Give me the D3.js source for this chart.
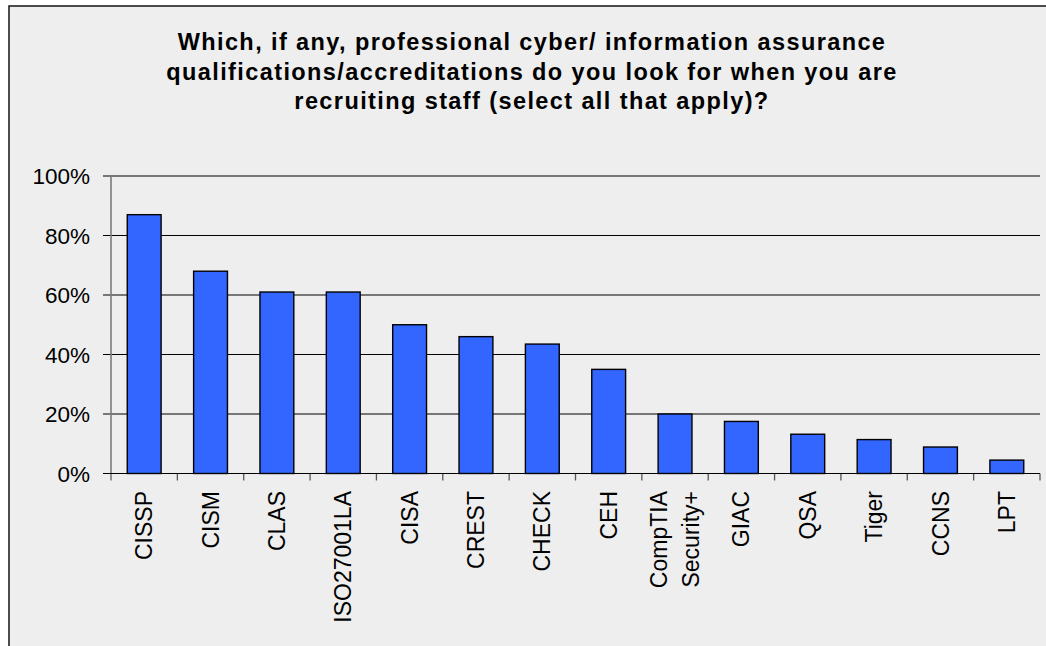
<!DOCTYPE html>
<html>
<head>
<meta charset="utf-8">
<script src="https://cdn.jsdelivr.net/npm/d3@7"></script>
<style>
  html, body { margin: 0; padding: 0; background: #ffffff; }
  svg { display: block; }
  text { font-family: "Liberation Sans", Arial, Helvetica, sans-serif; fill: #000; }
</style>
</head>
<body>
<svg id="chart" width="1046" height="646"></svg>
<script>
const titleLines = [
  "Which, if any, professional cyber/ information assurance",
  "qualifications/accreditations do you look for when you are",
  "recruiting staff (select all that apply)?"
];
const categories = [
  ["CISSP"], ["CISM"], ["CLAS"], ["ISO27001LA"], ["CISA"], ["CREST"], ["CHECK"],
  ["CEH"], ["CompTIA", "Security+"], ["GIAC"], ["QSA"], ["Tiger"], ["CCNS"], ["LPT"]
];
const values = [0.87, 0.68, 0.61, 0.61, 0.50, 0.46, 0.435, 0.35, 0.20, 0.175, 0.132, 0.114, 0.089, 0.045];
const yTicks = [0, 0.2, 0.4, 0.6, 0.8, 1.0];

const svg = d3.select("#chart");
const W = 1046, H = 646;
const plot = { left: 111, right: 1040, top: 176, bottom: 473.5 };

// frame
svg.append("rect")
  .attr("x", 9).attr("y", 6).attr("width", W + 20).attr("height", H + 20)
  .attr("fill", "#eeeeee").attr("stroke", "#222").attr("stroke-width", 1.6);

// title
const title = svg.append("text")
  .attr("text-anchor", "middle")
  .style("font-weight", "bold")
  .style("font-size", "23.5px")
  .style("letter-spacing", "1.4px");
titleLines.forEach((t, i) => {
  title.append("tspan").attr("x", 532).attr("y", 50 + i * 29.6).text(t);
});

const keys = categories.map((c, i) => i);
const xBand = d3.scaleBand().domain(keys).range([plot.left, plot.right]).padding(0);
const y = d3.scaleLinear().domain([0, 1]).range([plot.bottom, plot.top]);

// gridlines
svg.append("g").selectAll("line").data(yTicks).join("line")
  .attr("x1", plot.left - 8).attr("x2", plot.right)
  .attr("y1", d => y(d)).attr("y2", d => y(d))
  .attr("stroke", "#000").attr("stroke-width", 1.1);

// y axis labels
svg.append("g").selectAll("text").data(yTicks).join("text")
  .attr("x", 90).attr("y", d => y(d)).attr("dy", "0.36em")
  .attr("text-anchor", "end")
  .style("font-size", "22.5px")
  .text(d => d3.format(".0%")(d));

// y axis line
svg.append("line")
  .attr("x1", plot.left).attr("x2", plot.left)
  .attr("y1", plot.top).attr("y2", plot.bottom + 7)
  .attr("stroke", "#7a7a7a").attr("stroke-width", 1.6);

// x ticks at band boundaries
const bounds = keys.map(k => xBand(k)).concat([plot.right]);
svg.append("g").selectAll("line").data(bounds.slice(1)).join("line")
  .attr("x1", d => d).attr("x2", d => d)
  .attr("y1", plot.bottom).attr("y2", plot.bottom + 7)
  .attr("stroke", "#555").attr("stroke-width", 1.3);

// bars
const barW = xBand.bandwidth() * 0.51;
svg.append("g").selectAll("rect").data(values).join("rect")
  .attr("x", (d, i) => xBand(i) + (xBand.bandwidth() - barW) / 2)
  .attr("y", d => y(d))
  .attr("width", barW)
  .attr("height", d => y(0) - y(d))
  .attr("fill", "#3366ff")
  .attr("stroke", "#000").attr("stroke-width", 1.4);

// x axis baseline
svg.append("line")
  .attr("x1", plot.left - 8).attr("x2", plot.right)
  .attr("y1", plot.bottom).attr("y2", plot.bottom)
  .attr("stroke", "#000").attr("stroke-width", 1.2);

// x labels
const lab = svg.append("g").selectAll("text").data(categories).join("text")
  .attr("transform", (d, i) => `translate(${xBand(i) + xBand.bandwidth() / 2},491) rotate(-90)`)
  .attr("text-anchor", "end")
  .style("font-size", "23px");
lab.each(function(d) {
  const t = d3.select(this);
  const n = d.length;
  d.forEach((s, j) => {
    t.append("tspan").attr("x", 0)
      .attr("y", (j - (n - 1) / 2) * 31.5)
      .attr("dy", "0.35em")
      .text(s);
  });
});
</script>
</body>
</html>
